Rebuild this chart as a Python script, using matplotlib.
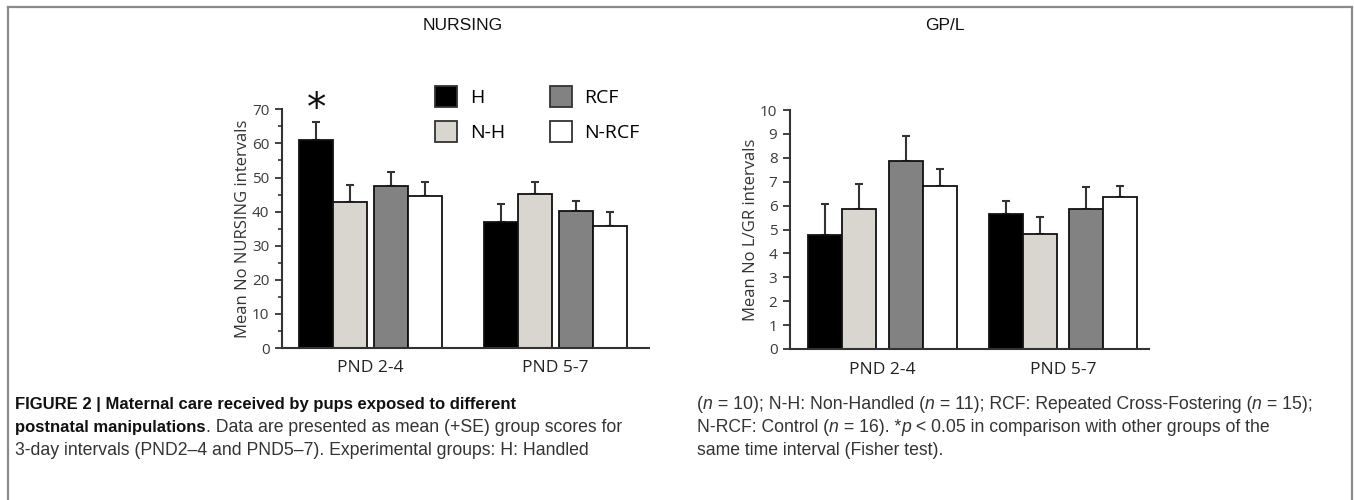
import matplotlib
matplotlib.use("Agg")
import matplotlib.pyplot as plt
from matplotlib.patches import Patch
from matplotlib.lines import Line2D
from matplotlib.ticker import MultipleLocator

# data (mean and +SE)
groups = ["PND 2-4", "PND 5-7"]
series = ["H", "N-H", "RCF", "N-RCF"]
colors = ["#000000", "#d9d6cf", "#828282", "#ffffff"]

nursing_mean_pnd24 = [61.0, 42.8, 47.5, 44.7]
nursing_se_pnd24 = [5.2, 4.9, 4.0, 3.9]
nursing_mean_pnd57 = [36.9, 45.1, 40.2, 35.9]
nursing_se_pnd57 = [5.3, 3.5, 3.0, 3.9]

gpl_mean_pnd24 = [4.77, 5.86, 7.88, 6.82]
gpl_se_pnd24 = [1.30, 1.04, 1.04, 0.71]
gpl_mean_pnd57 = [5.65, 4.81, 5.86, 6.35]
gpl_se_pnd57 = [0.55, 0.71, 0.91, 0.47]

W, H = 1354, 500
fig = plt.figure(figsize=(W / 100, H / 100), dpi=100)

TICKFONT = "Open Sans"
INK = "#333333"


def px_axes(x0, x1, ytop, ybot):
    return fig.add_axes([x0 / W, 1 - ybot / H, (x1 - x0) / W, (ybot - ytop) / H])


def draw_panel(ax, means, ses, starts, gap, xmax, ymax, major, minor, ylabel):
    offsets = [0, 1, 2 + gap, 3 + gap]
    for g, (m, s) in enumerate(zip(means, ses)):
        xs = [starts[g] + o for o in offsets]
        ax.bar(xs, m, width=1.0, color=colors, edgecolor="#111111",
               linewidth=1.3, zorder=2)
        ax.errorbar(xs, m, yerr=[[0] * 4, s], fmt="none", ecolor="#333333",
                    elinewidth=1.5, capsize=3, capthick=1.5, zorder=1)
    ax.set_xlim(0, xmax)
    ax.set_ylim(0, ymax)
    ax.set_xticks([st + offsets[-1] / 2 for st in starts])
    ax.set_xticklabels(groups, fontsize=12.5, family=TICKFONT, color="#222222")
    ax.tick_params(axis="x", length=0, pad=9)
    ax.yaxis.set_major_locator(MultipleLocator(major))
    if minor:
        ax.yaxis.set_minor_locator(MultipleLocator(minor))
    ax.tick_params(axis="y", which="major", length=5, width=1.3, color=INK,
                   labelsize=11, labelcolor="#3a3a3a", pad=4)
    ax.tick_params(axis="y", which="minor", length=3, width=1.2, color=INK)
    for lab in ax.get_yticklabels():
        lab.set_family(TICKFONT)
    for sp in ["top", "right"]:
        ax.spines[sp].set_visible(False)
    for sp in ["left", "bottom"]:
        ax.spines[sp].set_linewidth(1.5)
        ax.spines[sp].set_color(INK)
    ax.set_ylabel(ylabel, fontsize=12, family=TICKFONT, color="#333333",
                  labelpad=1)


ax1 = px_axes(282, 649, 109.3, 348)
draw_panel(ax1, [nursing_mean_pnd24, nursing_mean_pnd57],
           [nursing_se_pnd24, nursing_se_pnd57],
           [1.01, 6.44], 0.2, 367 / 34, 70, 10, 5,
           "Mean No NURSING intervals")

ax2 = px_axes(790, 1149, 110, 349)
draw_panel(ax2, [gpl_mean_pnd24, gpl_mean_pnd57],
           [gpl_se_pnd24, gpl_se_pnd57],
           [1.04, 6.35], 0.37, 359 / 34, 10, 1, None,
           "Mean No L/GR intervals")

# significance mark over H, PND 2-4
ax1.annotate("*", xy=(1.01, nursing_mean_pnd24[0] + nursing_se_pnd24[0]),
             xytext=(0, -4), textcoords="offset points", ha="center",
             va="bottom", fontsize=28, color="#111111", family="DejaVu Sans")

handles = [Patch(facecolor=c, edgecolor="#333333", linewidth=1.3) for c in colors]
fig.legend(handles, series, loc="upper left",
           bbox_to_anchor=(425 / W, 1 - 76 / H), ncol=2, frameon=False,
           borderpad=0, handlelength=1.15, handleheight=1.3,
           handletextpad=0.65, columnspacing=2.3, labelspacing=0.7,
           prop={"family": TICKFONT, "size": 14})

# panel titles
fig.text(463 / W, 1 - 25 / H, "NURSING", ha="center", va="center",
         fontsize=12.5, family="Liberation Sans", color="#111111")
fig.text(945 / W, 1 - 25 / H, "GP/L", ha="center", va="center",
         fontsize=12.5, family="Liberation Sans", color="#111111")

# frame round the figure
for xs, ys in [([8, 8], [7, 500]), ([8, 1352], [7, 7]), ([1352, 1352], [7, 500])]:
    fig.add_artist(Line2D([x / W for x in xs], [1 - y / H for y in ys],
                          color="#8a8a8a", linewidth=1.6))

# caption, written piece by piece so bold and italic runs can mix
renderer = fig.canvas.get_renderer()
CAP = dict(fontsize=12.7, family="Liberation Sans", color="#333333", va="baseline")


def caption_line(x, y, pieces):
    for txt, style in pieces:
        kw = dict(CAP)
        if style == "b":
            kw["weight"] = "bold"
            kw["color"] = "#111111"
            kw["fontsize"] = 12.0
        elif style == "i":
            kw["style"] = "italic"
        t = fig.text(x / W, 1 - y / H, txt, **kw)
        bb = t.get_window_extent(renderer)
        x += bb.width


caption_line(15, 409, [("FIGURE 2 | Maternal care received by pups exposed to different", "b")])
caption_line(15, 432, [("postnatal manipulations", "b"),
                       (". Data are presented as mean (+SE) group scores for", "")])
caption_line(15, 455, [("3-day intervals (PND2\u20134 and PND5\u20137). Experimental groups: H: Handled", "")])

caption_line(697, 409, [("(", ""), ("n", "i"), (" = 10); N-H: Non-Handled (", ""), ("n", "i"),
                        (" = 11); RCF: Repeated Cross-Fostering (", ""), ("n", "i"), (" = 15);", "")])
caption_line(697, 432, [("N-RCF: Control (", ""), ("n", "i"), (" = 16). *", ""), ("p", "i"),
                        (" < 0.05 in comparison with other groups of the", "")])
caption_line(697, 455, [("same time interval (Fisher test).", "")])

fig.savefig("out.png", dpi=100)
